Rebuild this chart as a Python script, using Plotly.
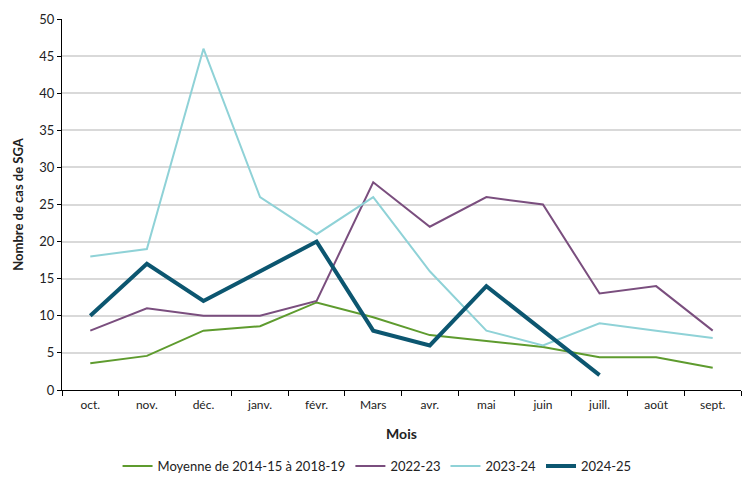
import plotly.graph_objects as go

months = ["oct.", "nov.", "déc.", "janv.", "févr.", "Mars", "avr.", "mai", "juin", "juill.", "août", "sept."]
moyenne = [3.6, 4.6, 8.0, 8.6, 11.8, 9.8, 7.4, 6.6, 5.8, 4.4, 4.4, 3.0]
s2022_23 = [8, 11, 10, 10, 12, 28, 22, 26, 25, 13, 14, 8]
s2023_24 = [18, 19, 46, 26, 21, 26, 16, 8, 6, 9, 8, 7]
s2024_25 = [10, 17, 12, 16, 20, 8, 6, 14, 8, 2]

FONT = "Lato"

fig = go.Figure()
fig.add_trace(go.Scatter(x=months, y=moyenne, mode="lines", name="Moyenne de 2014-15 à 2018-19",
                         line=dict(color="#5E9B2E", width=2)))
fig.add_trace(go.Scatter(x=months, y=s2022_23, mode="lines", name="2022-23",
                         line=dict(color="#7A4E7E", width=2)))
fig.add_trace(go.Scatter(x=months, y=s2023_24, mode="lines", name="2023-24",
                         line=dict(color="#8FD2D7", width=2)))
fig.add_trace(go.Scatter(x=months[:len(s2024_25)], y=s2024_25, mode="lines", name="2024-25",
                         line=dict(color="#0C5670", width=4)))

fig.update_layout(
    width=751, height=495,
    margin=dict(l=54, r=18, t=11, b=113),
    paper_bgcolor="white", plot_bgcolor="white",
    font=dict(family=FONT, size=13, color="#222222"),
    showlegend=True,
    legend=dict(orientation="h", x=0.464, xanchor="center", y=-0.205, yanchor="middle",
                font=dict(size=13), itemwidth=30, tracegroupgap=0),
    xaxis=dict(
        type="category", categoryorder="array", categoryarray=months,
        range=[-0.5, 11.5], automargin=False,
        showline=True, linecolor="black", linewidth=1,
        ticks="outside", tickson="boundaries", ticklen=5, tickcolor="black",
        ticklabelstandoff=4,
        showgrid=False, zeroline=False,
        tickfont=dict(size=12),
        title=dict(text="<b>Mois</b>", font=dict(size=14), standoff=17),
    ),
    yaxis=dict(
        range=[0, 50], dtick=5, tick0=0, automargin=False,
        showline=True, linecolor="black", linewidth=1,
        ticks="outside", ticklen=4, tickcolor="black",
        showgrid=True, gridcolor="#D9D9D9", gridwidth=1.5,
        zeroline=False,
        tickfont=dict(size=13),
        title=dict(text="<b>Nombre de cas de SGA</b>", font=dict(size=13), standoff=12),
    ),
)

fig.write_html("out.html")
